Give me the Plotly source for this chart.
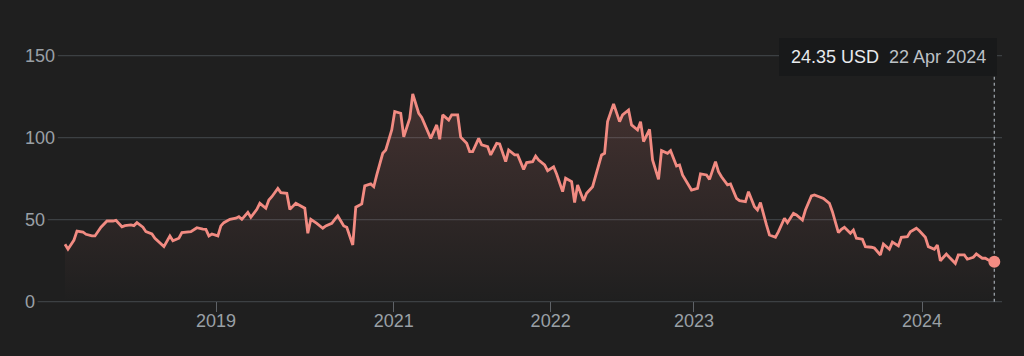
import plotly.graph_objects as go

# ---- data (weekly observations, week index -> closing price in USD) ----
weeks = [0, 1, 3, 4, 6, 7, 9, 10, 12, 13, 14, 16, 17, 19, 20, 22, 23, 24, 26, 27, 29, 30, 32, 33, 35, 36,
         38, 39, 42, 44, 46, 47, 48, 49, 51, 52, 53, 55, 57, 58, 59, 61, 62, 64, 65, 67, 68, 69, 71, 72, 74, 75, 77,
         78, 80, 81, 82, 84, 86, 87, 89, 90, 91, 93, 94, 96, 97, 99, 100, 102, 103, 104, 106, 107, 109, 110, 112, 113, 115, 116,
         118, 119, 121, 122, 124, 125, 126, 128, 129, 131, 132, 134, 135, 136, 138, 139, 141, 142, 144, 145, 147, 148, 150, 151, 153, 154, 156, 157,
         158, 160, 161, 163, 164, 166, 167, 169, 170, 171, 173, 174, 176, 177, 179, 180, 181, 183, 185, 186, 188, 189, 191, 192, 193, 195, 196,
         198, 199, 201, 202, 204, 205, 206, 208, 209, 211, 212, 214, 215, 217, 218, 219, 221, 222, 224, 225, 227, 228, 230, 231, 232, 234, 235, 237,
         238, 240, 241, 243, 244, 246, 247, 249, 250, 252, 253, 255, 256, 258, 259, 260, 262, 263, 264, 266, 267, 269, 270, 272, 273, 275, 276, 278,
         279, 281, 282, 284, 285, 287, 288, 290, 291, 292, 294, 295, 297, 298, 300, 301, 303, 304, 306, 307, 308, 310]
prices = [35.0, 32.0, 37.6, 43.1, 42.5, 41.1, 40.1, 40.1, 45.4, 47.4, 49.2, 49.2, 49.6, 45.7, 46.4, 46.8, 46.4, 48.2, 45.4, 42.7, 41.3, 38.7, 35.6, 33.6, 40.1, 37.2,
          38.7, 42.1, 42.7, 45.1, 44.3, 44.1, 40.1, 41.3, 40.1, 46.2, 48.2, 50.2, 50.9, 51.8, 50.2, 54.5, 51.5, 56.3, 60.0, 57.0, 62.0, 64.0, 69.1, 66.5, 66.1, 56.3, 60.0,
          59.0, 57.0, 41.7, 50.2, 47.8, 44.8, 46.2, 47.8, 50.2, 52.3, 46.2, 45.4, 34.6, 57.6, 59.6, 70.6, 71.8, 70.1, 77.3, 90.5, 92.5, 104.7, 115.9, 114.9, 100.6, 111.8, 126.7,
          114.9, 112.4, 103.7, 99.6, 107.8, 99.0, 113.9, 110.8, 113.9, 113.9, 100.3, 96.6, 91.5, 91.5, 99.6, 95.6, 94.5, 89.5, 96.6, 96.2, 85.4, 92.5, 89.5, 89.5, 80.7, 84.8, 85.4, 88.8,
          86.4, 83.4, 79.9, 82.3, 77.9, 67.1, 75.3, 73.2, 60.4, 71.2, 61.6, 66.1, 70.1, 76.2, 89.5, 90.5, 109.8, 120.6, 109.8, 113.9, 116.9, 107.8, 104.7, 109.8, 97.6, 105.1, 86.4,
          74.6, 92.1, 90.5, 92.1, 82.8, 83.4, 77.3, 71.2, 68.1, 69.1, 77.9, 77.3, 74.6, 85.4, 79.3, 76.2, 71.2, 71.8, 63.0, 61.6, 61.0, 67.1, 57.9, 55.9, 60.4, 46.8, 40.7, 39.3,
          42.7, 50.9, 48.2, 53.9, 52.9, 49.8, 55.9, 64.5, 65.1, 63.7, 63.0, 60.0, 54.9, 42.1, 44.1, 45.4, 41.7, 43.7, 38.7, 38.1, 33.6, 33.2, 32.7, 28.5, 35.2, 32.0, 36.3, 34.0,
          39.3, 39.6, 42.7, 44.8, 43.3, 39.3, 33.6, 32.0, 34.6, 25.0, 29.1, 27.1, 23.4, 28.5, 28.5, 25.9, 27.1, 29.1, 26.5, 26.5, 25.4, 24.35]
last_date = "22 Apr 2024"
currency = "USD"

y_ticks = [0, 50, 100, 150]
x_tick_labels = ["2019", "2021", "2022", "2023", "2024"]
x_tick_weeks = [50.4, 109.7, 162.0, 209.8, 285.9]

# ---- styling ----
BG = "#1f1f1f"
LINE = "#f28b82"
GRID = "#3c4043"
LABEL = "#9aa0a6"
FONT = "Liberation Sans, Arial, sans-serif"
FS = 18

W, H = 1024, 356
ML, MR, MT, MB = 22, 22, 40, 44
plot_w = W - ML - MR
plot_h = H - MT - MB
PX_PER_UNIT = 1.64
ZERO_PX = 301.7                      # pixel row of the value 0
y_min = -((H - MB) - ZERO_PX) / PX_PER_UNIT
y_max = (ZERO_PX - MT) / PX_PER_UNIT


def ypaper(px):
    return (H - MB - px) / plot_h


fig = go.Figure()

fig.add_trace(go.Scatter(
    x=weeks, y=prices, mode="lines",
    line=dict(color=LINE, width=2.8),
    fill="tozeroy",
    fillgradient=dict(type="vertical", start=0, stop=130,
                      colorscale=[[0, "rgba(242,139,130,0.0)"], [1, "rgba(242,139,130,0.18)"]]),
    hoverinfo="skip", showlegend=False,
))
fig.add_trace(go.Scatter(
    x=[weeks[-1]], y=[prices[-1]], mode="markers",
    marker=dict(color=LINE, size=12),
    hoverinfo="skip", showlegend=False,
))

shapes = []
# gridlines starting right after each left-aligned label
for v in y_ticks:
    label_px = 26 + len(str(v)) * 10.1 + 1.5
    shapes.append(dict(type="line", xref="paper", yref="y",
                       x0=(label_px - ML) / plot_w, x1=1, y0=v, y1=v,
                       line=dict(color=GRID, width=1.3), layer="below"))

# tooltip box
box_x0, box_x1, box_y0, box_y1 = 779, 997, 38, 76
shapes.append(dict(type="rect", xref="paper", yref="paper",
                   x0=(box_x0 - ML) / plot_w, x1=(box_x1 - ML) / plot_w,
                   y0=ypaper(box_y1), y1=ypaper(box_y0),
                   fillcolor="#18191a", line=dict(width=0), layer="above"))
# dotted guide line
shapes.append(dict(type="line", xref="x", yref="y",
                   x0=weeks[-1], x1=weeks[-1], y0=0, y1=(ZERO_PX - 75) / PX_PER_UNIT,
                   line=dict(color=LABEL, width=1.3, dash="dot"), layer="below"))

fig.update_layout(
    width=W, height=H,
    margin=dict(l=ML, r=MR, t=MT, b=MB, pad=0),
    paper_bgcolor=BG, plot_bgcolor=BG,
    font=dict(family=FONT, color=LABEL, size=FS),
    shapes=shapes,
    xaxis=dict(range=[-14.34, 312.57], showgrid=False, zeroline=False, showline=False,
               tickmode="array", tickvals=x_tick_weeks, ticktext=x_tick_labels,
               ticks="inside", ticklen=10, tickwidth=1, tickcolor="#5f6368",
               ticklabelstandoff=-4,
               tickfont=dict(size=FS, color=LABEL, family=FONT)),
    yaxis=dict(range=[y_min, y_max], showgrid=False, zeroline=False, showline=False,
               tickmode="array", tickvals=y_ticks, ticks="",
               ticklabelposition="inside", ticklabelstandoff=0,
               tickfont=dict(size=FS, color=LABEL, family=FONT)),
    annotations=[dict(
        xref="paper", yref="paper",
        x=((box_x0 + box_x1) / 2 - ML) / plot_w, y=ypaper((box_y0 + box_y1) / 2),
        xanchor="center", yanchor="middle", showarrow=False,
        text=f"<span style='color:#e8eaed'>{prices[-1]:.2f} {currency}</span>  "
             f"<span style='color:#bdc1c6'>{last_date}</span>",
        font=dict(family=FONT, size=FS))],
    hovermode=False,
)

fig.write_html("out.html")
